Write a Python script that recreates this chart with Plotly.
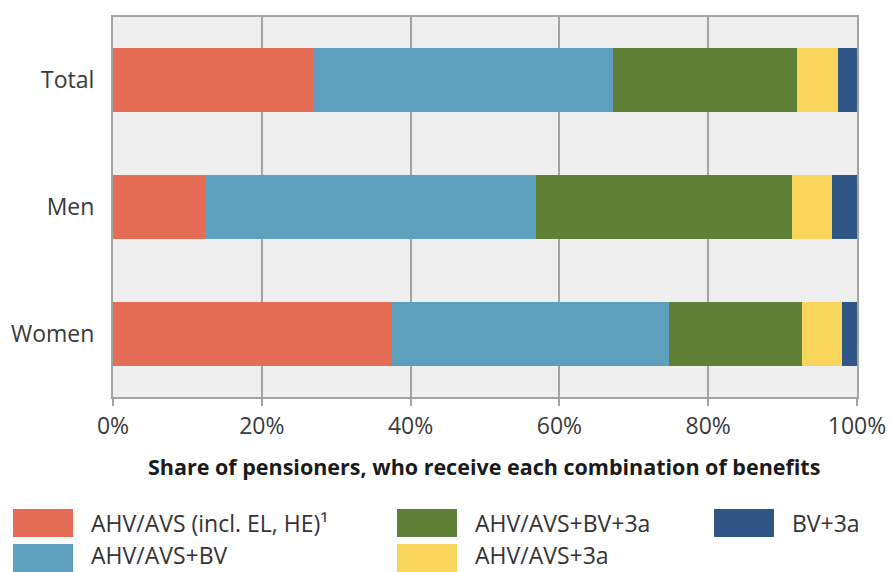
import plotly.graph_objects as go

categories = ["Total", "Men", "Women"]
series_names = ["AHV/AVS (incl. EL, HE)¹", "AHV/AVS+BV", "AHV/AVS+BV+3a", "AHV/AVS+3a", "BV+3a"]
ahv_only = [26.9, 12.5, 37.5]
ahv_bv = [40.3, 44.4, 37.2]
ahv_bv_3a = [24.8, 34.4, 17.9]
ahv_3a = [5.4, 5.4, 5.4]
bv_3a = [2.6, 3.3, 2.0]
series_values = [ahv_only, ahv_bv, ahv_bv_3a, ahv_3a, bv_3a]
colors = ["#E56D55", "#5FA0BE", "#5F8037", "#FAD55C", "#2F5685"]
tick_vals = [0, 20, 40, 60, 80, 100]
tick_text = ["0%", "20%", "40%", "60%", "80%", "100%"]
x_title = "<b>Share of pensioners, who receive each combination of benefits</b>"

FONT = "Open Sans"
W, H = 890, 572
ML, MR, MT, MB = 113, 33, 17, 175
pw = W - ML - MR
ph = H - MT - MB

fig = go.Figure()
for name, vals, col in zip(series_names, series_values, colors):
    fig.add_trace(go.Bar(
        y=categories, x=vals, name=name, orientation="h",
        marker=dict(color=col, line=dict(width=0)), showlegend=False,
    ))

fig.update_layout(
    barmode="stack",
    bargap=0.495,
    width=W, height=H,
    margin=dict(l=ML, r=MR, t=MT, b=MB, autoexpand=False),
    paper_bgcolor="white",
    plot_bgcolor="#EFEFEF",
    font=dict(family=FONT, size=18, color="#333333"),
    xaxis=dict(
        range=[0, 100], tickvals=tick_vals, ticktext=tick_text,
        showgrid=True, gridcolor="#A3A3A3", gridwidth=1.5,
        showline=True, linecolor="#A3A3A3", linewidth=2, mirror=True,
        ticks="outside", ticklen=7, tickcolor="#A3A3A3", tickwidth=1.5,
        tickfont=dict(size=23, color="#3a3a3a"),
        zeroline=False, automargin=False,
    ),
    yaxis=dict(
        categoryorder="array", categoryarray=categories, autorange="reversed",
        showline=True, linecolor="#A3A3A3", linewidth=2, mirror=True,
        showgrid=False, ticks="", ticklabelstandoff=12,
        tickfont=dict(size=23, color="#3a3a3a"),
        automargin=False,
    ),
)

def px_to_paper(x, y):
    return (x - ML) / pw, (H - MB - y) / ph

# axis title
tx, ty = px_to_paper(484, 467)
fig.add_annotation(xref="paper", yref="paper", x=tx, y=ty, text=x_title, showarrow=False,
                   xanchor="center", yanchor="middle",
                   font=dict(family=FONT, size=21.5, color="#1a1a1a"))

# manual legend (wide swatches) in pixel space
legend_pos = [(13, 509), (13, 544), (397, 509), (397, 544), (714, 509)]
for name, col, (sx, sy) in zip(series_names, colors, legend_pos):
    x0, y0 = px_to_paper(sx, sy)
    x1, y1 = px_to_paper(sx + 60, sy + 28)
    fig.add_shape(type="rect", xref="paper", yref="paper", x0=x0, x1=x1, y0=y1, y1=y0,
                  fillcolor=col, line=dict(width=0))
    text_y = sy + 14 if sy < 530 else sy + 11
    lx, ly = px_to_paper(sx + 76, text_y)
    fig.add_annotation(xref="paper", yref="paper", x=lx, y=ly, text=name, showarrow=False,
                       xanchor="left", yanchor="middle",
                       font=dict(family=FONT, size=23, color="#333333"))

fig.write_html(
    "out.html",
    config={"displayModeBar": False},
    post_script="document.body.style.margin='0';document.body.style.overflow='hidden';"
                "document.documentElement.style.overflow='hidden';",
)
